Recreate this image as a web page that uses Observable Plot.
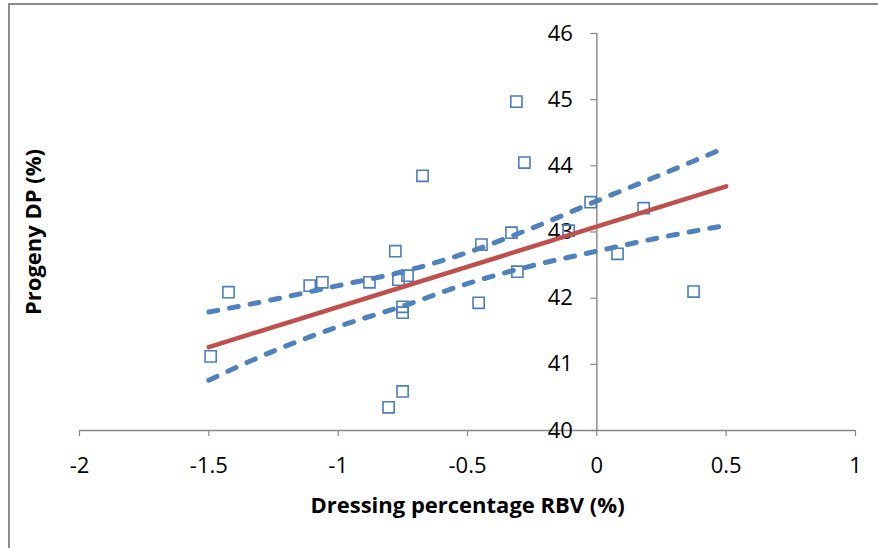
<!DOCTYPE html>
<html>
<head>
<meta charset="utf-8">
<script src="https://cdn.jsdelivr.net/npm/d3@7"></script>
<script src="https://cdn.jsdelivr.net/npm/@observablehq/plot@0.6"></script>
<style>
  html, body { margin: 0; padding: 0; background: #fff; overflow: hidden; }
  #wrap { position: relative; width: 878px; height: 548px; }
  #border { position: absolute; left: 8px; top: 3px; width: 1000px; height: 700px;
            border: 2px solid #8c8c8c; box-sizing: border-box; pointer-events: none; }
  #chart { position: absolute; left: 0; top: 0; }
</style>
</head>
<body>
<div id="wrap"><div id="chart"></div><div id="border"></div></div>
<script>
// ---- data ----
const xTicks = [-2, -1.5, -1, -0.5, 0, 0.5, 1];
const yTicks = [40, 41, 42, 43, 44, 45, 46];
const xTitle = "Dressing percentage RBV (%)";
const yTitle = "Progeny DP (%)";

const dressingRBV = [-1.493, -1.424, -1.110, -1.061, -0.879, -0.779, -0.767, -0.732, -0.751, -0.751,
                     -0.805, -0.751, -0.674, -0.457, -0.446, -0.330, -0.307, -0.311, -0.280, -0.109,
                     -0.024, 0.080, 0.181, 0.374];
const progenyDP   = [41.12, 42.09, 42.19, 42.24, 42.24, 42.71, 42.28, 42.34, 41.87, 41.78,
                     40.35, 40.59, 43.85, 41.93, 42.81, 42.99, 42.40, 44.97, 44.05, 43.02,
                     43.45, 42.67, 43.36, 42.10];

const fitX = [-1.5, 0.5];
const fitY = [41.26, 43.69];

const bandX     = [-1.5, -1.25, -1.0, -0.75, -0.5, -0.25, 0, 0.25, 0.5];
const bandUpper = [41.79, 41.98, 42.19, 42.40, 42.69, 43.06, 43.47, 43.87, 44.28];
const bandLower = [40.76, 41.20, 41.57, 41.88, 42.22, 42.49, 42.71, 42.92, 43.10];

// ---- tables built from the arrays ----
const points = dressingRBV.map((x, i) => ({x, y: progenyDP[i]}));
const fit = fitX.map((x, i) => ({x, y: fitY[i]}));
const upper = bandX.map((x, i) => ({x, y: bandUpper[i]}));
const lower = bandX.map((x, i) => ({x, y: bandLower[i]}));

const axisColor = "#868686";
const font = "'Open Sans', 'Noto Sans', sans-serif";

const chart = Plot.plot({
  width: 878,
  height: 548,
  marginLeft: 79,
  marginRight: 23,
  marginTop: 33,
  marginBottom: 118,
  style: {fontFamily: font, background: "transparent", color: "#000"},
  x: {domain: [-2, 1], axis: null},
  y: {domain: [40, 46], axis: null},
  marks: [
    // axis lines
    Plot.ruleY([40], {x1: -2, x2: 1, stroke: axisColor, strokeWidth: 1.4}),
    Plot.ruleX([0], {y1: 40, y2: 46, stroke: axisColor, strokeWidth: 1.4}),
    // ticks
    Plot.ruleX(xTicks, {x: d => d, y1: 40, y2: 40, insetBottom: -6, stroke: axisColor, strokeWidth: 1.2}),
    Plot.ruleY(yTicks, {y: d => d, x1: 0, x2: 0, insetLeft: -6, stroke: axisColor, strokeWidth: 1.2}),
    // tick labels
    Plot.text(xTicks, {x: d => d, y: 40, text: d => String(d), dy: 35, fontSize: 22, fill: "#000"}),
    Plot.text(yTicks, {x: 0, y: d => d, text: d => String(d), textAnchor: "end", dx: -24, fontSize: 22, fill: "#000"}),
    // data
    Plot.dot(points, {x: "x", y: "y", symbol: "square", r: 6.3, fill: "none", stroke: "#4a7ebb", strokeWidth: 1.6}),
    Plot.line(upper, {x: "x", y: "y", curve: "monotone-x", stroke: "#4f81bd", strokeWidth: 5,
                      strokeDasharray: "9 12", strokeLinecap: "round"}),
    Plot.line(lower, {x: "x", y: "y", curve: "monotone-x", stroke: "#4f81bd", strokeWidth: 5,
                      strokeDasharray: "9 12", strokeLinecap: "round"}),
    Plot.line(fit, {x: "x", y: "y", stroke: "#c0504d", strokeWidth: 4.5}),
    // axis titles
    Plot.text([xTitle], {frameAnchor: "bottom", text: d => d, dy: 75, lineAnchor: "middle", textAnchor: "middle",
                         fontSize: 22, fontWeight: "bold", fill: "#000"}),
    Plot.text([yTitle], {frameAnchor: "left", text: d => d, rotate: -90, dx: -46, lineAnchor: "middle", textAnchor: "middle",
                         fontSize: 22, fontWeight: "bold", fill: "#000"})
  ]
});
document.getElementById("chart").appendChild(chart);
</script>
</body>
</html>
